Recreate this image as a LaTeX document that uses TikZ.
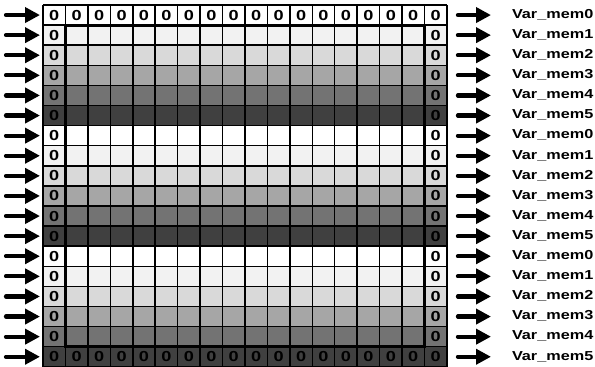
\documentclass[tikz,border=0pt]{standalone}
\usepackage{fontspec}
\setmainfont{Liberation Sans}
\newfontfamily\widesans[FakeStretch=1.25]{Liberation Sans}
\usetikzlibrary{arrows.meta}
\definecolor{g0}{HTML}{FFFFFF}
\definecolor{g1}{HTML}{F2F2F2}
\definecolor{g2}{HTML}{D9D9D9}
\definecolor{g3}{HTML}{A6A6A6}
\definecolor{g4}{HTML}{737373}
\definecolor{g5}{HTML}{404040}
\tikzset{
  cell/.style={minimum width=22.44pt, minimum height=20.1pt,
    inner sep=0pt, outer sep=0pt, font=\widesans\bfseries\fontsize{14.5}{14.5}\selectfont},
  gridline/.style={draw=black, line width=1.5pt},
  lab/.style={inner sep=0pt, outer sep=0pt, anchor=base west, font=\widesans\bfseries\fontsize{13}{13}\selectfont},
  arr/.style={line width=4.2pt, line cap=round, -{Triangle[length=15pt,width=15pt]}},
  frame/.style={line width=3.2pt}
}
\begin{document}
\begin{tikzpicture}[x=1pt,y=-1pt]
\useasboundingbox (0,0) rectangle (595,367);
\foreach \r in {0,...,17}{
  \pgfmathtruncatemacro\s{mod(\r,6)}
  \pgfmathsetmacro\yc{5+20.1*(\r+0.5)}
  \foreach \c in {0,...,17}{
    \pgfmathtruncatemacro\edge{(\r==0)||(\r==17)||(\c==0)||(\c==17)}
    \node[cell, fill=g\s] (c-\r-\c) at ({43+22.44*(\c+0.5)},\yc) {\ifnum\edge=1 0\fi};
  }
  \coordinate (in-\r) at (6,\yc);
  \node[lab] (v-\r) at (512,\yc+3.3) {Var\_mem\s};
}
\foreach \c in {0,...,17}{
  \draw[gridline] (c-0-\c.north west) -- (c-17-\c.south west);
}
\draw[gridline] (c-0-17.north east) -- (c-17-17.south east);
\foreach \r in {0,...,17}{
  \draw[gridline] (c-\r-0.north west) -- (c-\r-17.north east);
}
\draw[gridline] (c-17-0.south west) -- (c-17-17.south east);
\draw[frame] (c-1-1.north west) rectangle (c-16-16.south east);
\foreach \r in {0,...,17}{
  \draw[arr, shorten >=3pt] (in-\r) -- (c-\r-0.west);
  \draw[arr, shorten <=11pt, shorten >=21pt] (c-\r-17.east) -- (c-\r-17.east -| v-\r.west);
}
\end{tikzpicture}
\end{document}
